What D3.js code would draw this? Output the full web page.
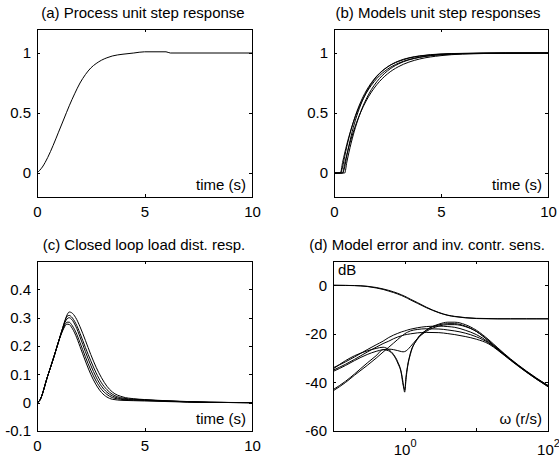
<!DOCTYPE html>
<html>
<head>
<meta charset="utf-8">
<script src="https://cdn.jsdelivr.net/npm/d3@7"></script>
<style>
body{margin:0;background:#fff;}
svg{display:block;font-family:"Liberation Sans",Arial,sans-serif;}
</style>
</head>
<body>
<svg id="fig" width="559" height="461"></svg>
<script>
// (a) process step response
const timeA = [0,0.25,0.5,0.75,1,1.25,1.5,1.75,2,2.25,2.5,2.75,3,3.25,3.5,4,4.5,5,6,6.2,10];
const processStep = [0,0.05,0.13,0.23,0.34,0.45,0.56,0.66,0.75,0.82,0.875,0.912,0.94,0.96,0.975,0.99,1.0,1.01,1.01,1.0,1.0];

// (b) model step responses
const timeB = [0,0.3,0.4,0.5,0.6,0.8,1,1.25,1.5,1.75,2,2.5,3,3.5,4,5,6,8,10];
const modelStep1 = [0,0,0.087,0.166,0.239,0.365,0.471,0.578,0.664,0.732,0.787,0.865,0.914,0.945,0.965,0.986,0.994,0.999,1.0];
const modelStep2 = [0,0,0.049,0.139,0.221,0.362,0.478,0.593,0.683,0.753,0.808,0.884,0.929,0.957,0.974,0.990,0.996,1.0,1.0];
const modelStep3 = [0,0,0,0.080,0.154,0.283,0.393,0.508,0.600,0.675,0.736,0.826,0.885,0.924,0.950,0.978,0.991,0.998,1.0];
const modelStep4 = [0,0,0,0.051,0.146,0.308,0.440,0.569,0.669,0.745,0.804,0.884,0.932,0.960,0.976,0.992,0.997,1.0,1.0];
const modelStep5 = [0,0,0,0,0.091,0.249,0.379,0.510,0.614,0.696,0.760,0.851,0.908,0.943,0.964,0.986,0.995,0.999,1.0];

// (c) closed loop load disturbance responses
const timeC = [0,0.1,0.5,0.8,1.0,1.1,1.2,1.3,1.4,1.5,1.6,1.8,2.0,2.25,2.5,2.75,3.0,3.25,3.5,4,4.5,5,6,7,8,10];
const loadResp1 = [0,0.005,0.095,0.165,0.215,0.24,0.265,0.29,0.31,0.32,0.318,0.3,0.268,0.22,0.17,0.125,0.088,0.058,0.038,0.02,0.014,0.011,0.007,0.004,0.002,0];
const loadResp2 = [0,0.005,0.095,0.165,0.215,0.24,0.265,0.288,0.305,0.308,0.303,0.28,0.245,0.195,0.148,0.105,0.07,0.046,0.03,0.016,0.012,0.01,0.006,0.003,0.001,0];
const loadResp3 = [0,0.005,0.095,0.165,0.215,0.24,0.263,0.283,0.296,0.3,0.295,0.27,0.232,0.18,0.132,0.09,0.058,0.037,0.024,0.013,0.01,0.009,0.006,0.003,0.001,0];
const loadResp4 = [0,0.005,0.095,0.165,0.215,0.238,0.258,0.275,0.284,0.284,0.276,0.25,0.212,0.162,0.115,0.076,0.047,0.029,0.018,0.011,0.009,0.008,0.005,0.003,0.001,0];
const loadResp5 = [0,0.005,0.095,0.165,0.215,0.236,0.255,0.27,0.277,0.276,0.267,0.238,0.198,0.147,0.1,0.063,0.036,0.02,0.012,0.008,0.007,0.006,0.004,0.002,0.001,0];

// (d) model error and inverse control sensitivity, dB
const omega = [0.1,0.15,0.2,0.3,0.4,0.5,0.6,0.7,0.8,0.9,0.95,1.0,1.05,1.1,1.2,1.5,2,3,4,5,7,10,15,20,30,50,70,100];
const invSens1 = [0,-0.05,-0.1,-0.4,-0.9,-1.5,-2.1,-2.7,-3.3,-3.9,-4.2,-4.5,-4.8,-5.1,-5.7,-7.1,-9.0,-11.2,-12.3,-12.8,-13.3,-13.6,-13.7,-13.8,-13.8,-13.8,-13.8,-13.8];
const invSens2 = [0,-0.05,-0.15,-0.5,-1.1,-1.7,-2.4,-3.0,-3.6,-4.2,-4.5,-4.8,-5.1,-5.4,-6.0,-7.4,-9.2,-11.3,-12.4,-12.9,-13.4,-13.7,-13.8,-13.8,-13.8,-13.8,-13.8,-13.8];
const modelErr1 = [-34.5,-31,-29,-27,-26,-25.5,-26.5,-28.5,-31.5,-36,-40,-44,-38,-33.5,-28.5,-22,-18.5,-16,-15.2,-15.2,-16.2,-18.5,-22.5,-25.8,-30.3,-35.3,-38.3,-41.3];
const modelErr2 = [-43,-39.5,-36.5,-32,-29,-26.5,-27,-28.8,-32,-36.5,-41,-43,-37,-33,-28,-22.3,-18.5,-16.3,-15.8,-15.8,-16.8,-19,-23,-26.2,-30.6,-35.6,-38.6,-41.6];
const modelErr3 = [-34,-31.5,-29.5,-26.5,-24.5,-23,-21.5,-20.5,-19.8,-19.2,-19,-18.8,-18.6,-18.4,-18.1,-17.5,-17,-16.8,-17,-17.3,-18.5,-20.3,-23.5,-26.5,-30.6,-35.5,-38.5,-41.2];
const modelErr4 = [-35,-32.5,-30.5,-27.5,-25.5,-24,-23,-22,-21.3,-20.8,-20.6,-20.4,-20.3,-20.2,-20,-19.6,-19.4,-19.5,-19.9,-20.3,-21.1,-22.2,-24.2,-26.8,-30.9,-35.8,-38.8,-41.8];
const modelErr5 = [-43.5,-40,-37,-33,-30,-27.5,-25.5,-23.8,-22.3,-21,-20.5,-20,-19.6,-19.3,-18.8,-18.2,-17.9,-18,-18.4,-18.8,-19.7,-21.2,-23.8,-26.6,-30.7,-35.7,-38.7,-41.5];
const modelErr6 = [-35.5,-33,-31,-28.5,-27.2,-26.5,-26.3,-26.5,-26.9,-27.3,-27.4,-27.3,-27,-26.5,-25.3,-22,-19,-16.8,-16.2,-16.2,-17,-19,-23,-26.2,-30.5,-35.5,-38.5,-41.4];

// ticks and labels
const timeTicks = [0,5,10];
const stepTicks = [0,0.5,1];
const loadTicks = [-0.1,0,0.1,0.2,0.3,0.4];
const dbTicks = [-60,-40,-20,0];
const omegaTicks = [1,10,100];
const omegaLabels = {1:"0",100:"2"};

const FONT = 15;

class Panel{
    constructor(config){
        this.config = config;
        this.init();
    }
    init(){
        let self = this;
        let c = self.config;
        self.g = d3.select("#fig").append("g")
            .attr("transform",`translate(${c.left},${c.top})`);

        self.xscale = (c.log ? d3.scaleLog() : d3.scaleLinear())
            .domain(c.xdomain).range([0,c.width]);
        self.yscale = d3.scaleLinear()
            .domain(c.ydomain).range([c.height,0]);

        // matlab-like box with ticks pointing in on all sides
        self.g.append("g").attr("transform",`translate(0,${c.height})`)
            .call(d3.axisBottom(self.xscale).tickValues(c.xticks).tickSize(-3).tickSizeOuter(0).tickPadding(9))
            .call(g=>self.style(g));
        self.g.append("g")
            .call(d3.axisTop(self.xscale).tickValues(c.xticks).tickSize(-3).tickSizeOuter(0).tickFormat(""))
            .call(g=>self.style(g));
        self.g.append("g")
            .call(d3.axisLeft(self.yscale).tickValues(c.yticks).tickSize(-3).tickSizeOuter(0).tickPadding(6)
                .tickFormat(d=>String(d)))
            .call(g=>self.style(g));
        self.g.append("g").attr("transform",`translate(${c.width},0)`)
            .call(d3.axisRight(self.yscale).tickValues(c.yticks).tickSize(-3).tickSizeOuter(0).tickFormat(""))
            .call(g=>self.style(g));

        self.g.append("rect")
            .attr("x",0).attr("y",0)
            .attr("width",c.width).attr("height",c.height)
            .attr("fill","none").attr("stroke","#000").attr("stroke-width",1)
            .attr("shape-rendering","crispEdges");

        self.g.append("text")
            .attr("x",c.titleX - c.left).attr("y",c.titleY - c.top)
            .attr("text-anchor","middle")
            .attr("font-size",FONT)
            .text(c.title);

        if(c.xlabel){
            self.g.append("text")
                .attr("x",c.width-6).attr("y",c.height-7)
                .attr("text-anchor","end")
                .attr("font-size",FONT)
                .text(c.xlabel);
        }
    }
    style(g){
        g.select(".domain").remove();
        g.selectAll("line").attr("stroke","#000").attr("shape-rendering","crispEdges");
        g.selectAll("text").attr("font-size",FONT).attr("fill","#000")
            .attr("font-family","'Liberation Sans',Arial,sans-serif");
    }
    render(xs,series,width){
        let self = this;
        let line = d3.line()
            .x((d,i)=>self.xscale(xs[i]))
            .y(d=>self.yscale(d))
            .curve(d3.curveMonotoneX);
        self.g.selectAll(null)
            .data(series)
            .join("path")
            .attr("d",d=>line(d))
            .attr("fill","none")
            .attr("stroke","#000")
            .attr("stroke-width",width||1);
    }
}

let pa = new Panel({left:37,top:29,width:215,height:168,xdomain:[0,10],ydomain:[-0.2,1.2],
    xticks:timeTicks,yticks:stepTicks,title:"(a) Process unit step response",titleX:143,titleY:18,xlabel:"time (s)"});
pa.render(timeA,[processStep],1);

let pb = new Panel({left:334,top:29,width:214,height:168,xdomain:[0,10],ydomain:[-0.2,1.2],
    xticks:timeTicks,yticks:stepTicks,title:"(b) Models unit step responses",titleX:438,titleY:18,xlabel:"time (s)"});
pb.render(timeB,[modelStep1,modelStep2,modelStep3,modelStep4,modelStep5],1);

let pc = new Panel({left:37,top:261,width:215,height:170,xdomain:[0,10],ydomain:[-0.1,0.5],
    xticks:timeTicks,yticks:loadTicks,title:"(c) Closed loop load dist. resp.",titleX:144,titleY:250,xlabel:"time (s)"});
pc.render(timeC,[loadResp1,loadResp2,loadResp3,loadResp4,loadResp5],1);

let pd = new Panel({left:333,top:261,width:215,height:170,xdomain:[0.1,100],ydomain:[-60,10],log:true,
    xticks:omegaTicks,yticks:dbTicks,title:"(d) Model error and inv. contr. sens.",titleX:427,titleY:250,xlabel:"\u03c9 (r/s)"});
pd.render(omega,[invSens1,invSens2],1);
pd.render(omega,[modelErr1,modelErr2,modelErr3,modelErr4,modelErr5,modelErr6],1);
pd.g.append("text").attr("x",5).attr("y",14).attr("font-size",FONT).text("dB");

// powers of ten on the log axis
pd.g.select("g").selectAll(".tick text").each(function(d){
    let t = d3.select(this).text(null).attr("dy",null).attr("y",24);
    if(omegaLabels[d]===undefined) return;
    t.append("tspan").text("10");
    t.append("tspan").attr("dy",-8).attr("font-size",11).text(omegaLabels[d]);
});
</script>
</body>
</html>
